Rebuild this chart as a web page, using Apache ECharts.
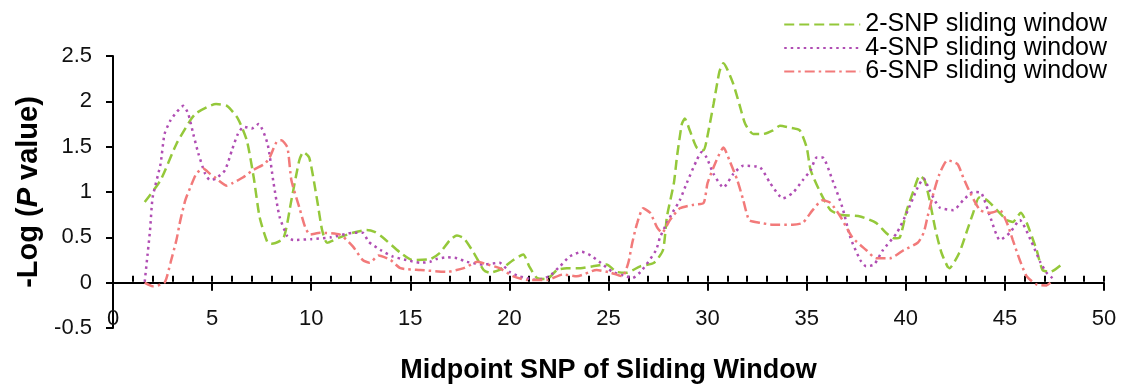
<!DOCTYPE html>
<html>
<head>
<meta charset="utf-8">
<script src="https://cdn.jsdelivr.net/npm/echarts@6/dist/echarts.min.js"></script>
<style>
  html, body { margin: 0; padding: 0; background: #fff; }
  #chart { width: 1125px; height: 388px; }
</style>
</head>
<body>
<div id="chart"></div>
<script>
// [midpoint SNP, -log P]
var win2 = [[1.6,0.89],[2.4,1.13],[3.2,1.53],[3.9,1.79],[4.2,1.87],[5.2,1.97],[5.75,1.95],[6.3,1.81],[6.75,1.57],[7.1,1.16],[7.4,0.72],[7.8,0.44],[8.0,0.43],[8.6,0.49],[9.0,0.91],[9.4,1.35],[9.6,1.44],[9.9,1.38],[10.3,0.91],[10.55,0.58],[10.8,0.44],[11.45,0.5],[12.1,0.55],[12.8,0.58],[13.2,0.56],[13.6,0.5],[14.5,0.33],[15.1,0.25],[16.0,0.26],[16.5,0.33],[17.0,0.47],[17.35,0.52],[17.7,0.49],[18.2,0.33],[18.7,0.14],[19.0,0.11],[19.5,0.14],[20.2,0.25],[20.7,0.31],[21.0,0.18],[21.4,0.05],[21.9,0.04],[22.4,0.14],[22.9,0.16],[23.6,0.16],[24.2,0.18],[24.9,0.2],[25.4,0.12],[25.9,0.11],[26.6,0.18],[27.3,0.22],[27.75,0.36],[27.95,0.73],[28.3,1.1],[28.45,1.38],[28.7,1.75],[28.85,1.81],[29.1,1.68],[29.45,1.49],[29.8,1.46],[29.95,1.57],[30.3,1.97],[30.6,2.33],[30.8,2.42],[31.0,2.35],[31.3,2.19],[31.6,1.97],[31.9,1.75],[32.3,1.64],[32.8,1.64],[33.3,1.68],[33.65,1.73],[34.15,1.71],[34.65,1.68],[35.0,1.49],[35.2,1.24],[35.7,0.99],[36.2,0.8],[36.7,0.75],[37.7,0.73],[38.5,0.66],[39.0,0.55],[39.4,0.49],[39.7,0.5],[40.05,0.8],[40.4,1.02],[40.7,1.18],[40.95,1.13],[41.2,0.91],[41.5,0.58],[41.8,0.33],[42.1,0.18],[42.2,0.16],[42.7,0.33],[43.1,0.58],[43.4,0.77],[43.7,0.94],[44.1,0.91],[44.6,0.8],[45.1,0.69],[45.4,0.67],[45.8,0.77],[46.1,0.66],[46.6,0.36],[46.9,0.14],[47.3,0.12],[47.8,0.19]];

var win4 = [[1.6,0.01],[1.7,0.22],[1.87,0.58],[2.0,0.94],[2.4,1.31],[2.6,1.64],[2.9,1.79],[3.2,1.88],[3.55,1.95],[3.8,1.86],[4.05,1.64],[4.3,1.43],[4.65,1.2],[4.9,1.13],[5.2,1.15],[5.65,1.24],[6.0,1.46],[6.3,1.64],[6.6,1.72],[7.0,1.7],[7.35,1.75],[7.8,1.53],[8.1,1.1],[8.4,0.73],[8.8,0.51],[9.1,0.47],[10.0,0.48],[11.0,0.5],[12.1,0.55],[12.6,0.55],[12.9,0.45],[13.5,0.36],[14.1,0.29],[14.8,0.25],[15.5,0.22],[16.0,0.23],[16.3,0.26],[16.85,0.28],[17.35,0.27],[17.85,0.23],[18.7,0.2],[19.5,0.22],[20.0,0.12],[20.5,0.07],[21.4,0.03],[22.0,0.07],[22.55,0.18],[23.05,0.29],[23.65,0.34],[24.1,0.3],[24.6,0.22],[25.2,0.12],[25.9,0.07],[26.2,0.05],[26.7,0.14],[27.4,0.36],[27.6,0.5],[27.95,0.66],[28.25,0.78],[28.6,0.91],[28.95,1.1],[29.45,1.35],[29.7,1.44],[29.95,1.38],[30.3,1.2],[30.8,1.05],[31.3,1.2],[31.8,1.29],[32.65,1.27],[33.15,1.1],[33.8,0.93],[34.3,0.99],[34.8,1.13],[35.2,1.24],[35.5,1.38],[35.8,1.38],[36.3,1.13],[36.8,0.83],[37.2,0.5],[37.7,0.25],[38.0,0.18],[38.4,0.2],[38.85,0.36],[39.55,0.55],[40.05,0.77],[40.6,1.05],[40.9,1.15],[41.2,1.02],[41.7,0.83],[42.4,0.8],[42.9,0.91],[43.4,1.0],[43.8,0.99],[44.25,0.73],[44.75,0.47],[45.25,0.55],[45.75,0.69],[46.3,0.47],[46.8,0.22],[47.1,0.11],[47.4,0.05]];

var win6 = [[1.6,0.0],[2.0,-0.04],[2.6,0.0],[2.9,0.22],[3.2,0.47],[3.4,0.69],[3.65,0.91],[3.9,1.05],[4.2,1.2],[4.55,1.26],[4.9,1.2],[5.2,1.15],[5.75,1.07],[6.05,1.1],[6.55,1.16],[7.05,1.24],[7.65,1.31],[7.9,1.38],[8.25,1.55],[8.5,1.57],[8.8,1.49],[9.0,1.13],[9.4,0.83],[9.7,0.61],[9.95,0.53],[10.45,0.55],[11.45,0.53],[12.1,0.4],[12.6,0.25],[12.95,0.22],[13.4,0.3],[14.0,0.25],[14.5,0.16],[15.5,0.14],[16.85,0.12],[17.7,0.16],[18.4,0.23],[18.9,0.2],[19.5,0.16],[20.2,0.07],[20.9,0.03],[21.9,0.03],[22.7,0.09],[23.4,0.07],[24.4,0.14],[25.1,0.11],[25.7,0.07],[26.0,0.22],[26.2,0.44],[26.45,0.66],[26.75,0.82],[27.1,0.77],[27.45,0.61],[27.7,0.55],[28.1,0.69],[28.6,0.82],[29.3,0.86],[29.8,0.88],[30.0,1.1],[30.45,1.35],[30.8,1.49],[31.1,1.35],[31.5,1.13],[31.8,0.91],[32.1,0.69],[32.65,0.66],[33.3,0.64],[34.3,0.64],[34.8,0.66],[35.3,0.8],[35.8,0.91],[36.2,0.88],[36.7,0.73],[37.3,0.5],[38.0,0.36],[38.5,0.27],[39.2,0.27],[39.9,0.36],[40.6,0.44],[40.9,0.55],[41.1,0.73],[41.4,0.99],[41.7,1.2],[42.1,1.35],[42.6,1.31],[42.9,1.16],[43.25,0.99],[43.75,0.8],[44.25,0.77],[44.75,0.8],[45.1,0.66],[45.4,0.47],[45.75,0.25],[46.1,0.07],[46.6,-0.02],[47.1,-0.03],[47.3,0.0]];

var seriesNames = ['2-SNP sliding window', '4-SNP sliding window', '6-SNP sliding window'];

var chart = echarts.init(document.getElementById('chart'));
var font = '"Liberation Sans", Arial, sans-serif';

var gridTop = 56, gridBottom = 60, yMin = -0.5, yMax = 2.5;
// distance from the top edge of the grid down to the y = 0 line
var zeroOffset = (388 - gridTop - gridBottom) * yMax / (yMax - yMin);

function lineSeries(name, data, color, dash, axisIdx) {
    return {
        name: name,
        type: 'line',
        data: data,
        showSymbol: false,
        symbol: 'none',
        smooth: 0.2,
        xAxisIndex: axisIdx,
        lineStyle: { color: color, width: 2.5, type: dash },
        itemStyle: { color: color },
        animation: false
    };
}

var option = {
    animation: false,
    grid: { left: 113, right: 21, top: gridTop, bottom: gridBottom, outerBoundsMode: 'none', containLabel: false },
    legend: {
        orient: 'vertical',
        right: 13,
        top: 7,
        itemWidth: 76,
        itemHeight: 14,
        itemGap: -1.5,
        itemStyle: { opacity: 0 },
        textStyle: { fontFamily: font, fontSize: 25, lineHeight: 24, color: '#000' },
        data: seriesNames
    },
    xAxis: [{
        type: 'value',
        min: 0,
        max: 50,
        interval: 5,
        name: 'Midpoint SNP of Sliding Window',
        nameLocation: 'middle',
        nameGap: 29,
        nameTextStyle: { fontFamily: font, fontSize: 27, fontWeight: 'bold', color: '#000' },
        axisLine: { onZero: true, lineStyle: { color: '#000', width: 2 } },
        axisTick: { show: true, length: 8, lineStyle: { color: '#000', width: 2 } },
        axisLabel: { margin: -20, fontFamily: font, fontSize: 22, color: '#111' },
        splitLine: { show: false }
    }, {
        // unit ticks standing up from the zero line
        type: 'value',
        min: 0,
        max: 50,
        interval: 1,
        position: 'top',
        offset: -zeroOffset + 1,
        axisLine: { show: false, onZero: false },
        axisTick: { show: true, inside: false, length: 6, lineStyle: { color: '#000', width: 2 } },
        axisLabel: { show: false },
        splitLine: { show: false }
    }],
    yAxis: {
        type: 'value',
        min: yMin,
        max: yMax,
        interval: 0.5,
        name: '-Log ({i|P} value)',
        nameLocation: 'middle',
        nameGap: 70,
        nameRotate: 90,
        nameTextStyle: {
            fontFamily: font, fontSize: 29, fontWeight: 'bold', color: '#000',
            rich: { i: { fontFamily: font, fontSize: 29, fontWeight: 'bold', fontStyle: 'italic', color: '#000' } }
        },
        axisLine: { show: true, onZero: false, lineStyle: { color: '#000', width: 2 } },
        axisTick: { show: true, length: 7, lineStyle: { color: '#000', width: 2 } },
        axisLabel: { margin: 21, fontFamily: font, fontSize: 22, color: '#111' },
        splitLine: { show: false }
    },
    series: [
        lineSeries(seriesNames[0], win2, '#94c83a', [10, 5], 1),
        lineSeries(seriesNames[1], win4, '#b04db3', [2.5, 4], 0),
        lineSeries(seriesNames[2], win6, '#f27a7a', [10, 4, 2.5, 4], 0)
    ]
};

chart.setOption(option);
</script>
</body>
</html>
